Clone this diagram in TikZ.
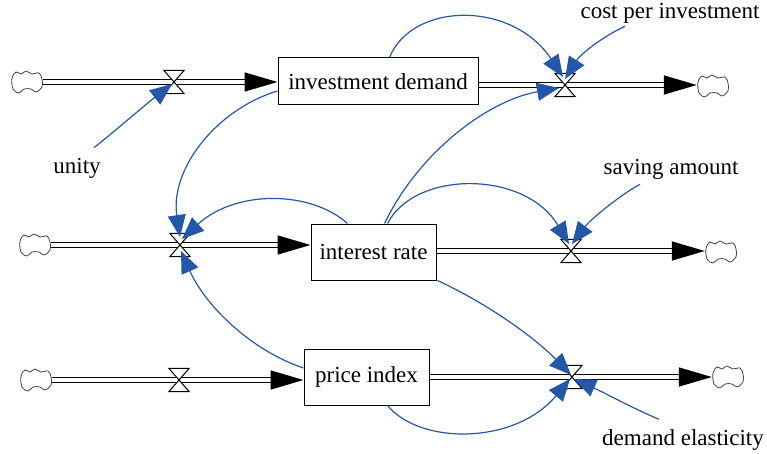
\documentclass[tikz,border=0pt]{standalone}
\usepackage{fontspec}
\setmainfont{Liberation Serif}
\usetikzlibrary{arrows.meta,calc}
\definecolor{linkblue}{HTML}{2457A7}
\tikzset{
  stockbox/.style={draw=black,line width=1pt,fill=white,inner sep=0pt,font=\fontsize{23}{26}\selectfont},
  varlabel/.style={inner sep=0pt,font=\fontsize{23}{26}\selectfont,anchor=center},
  valvebox/.style={inner sep=0pt,minimum width=20pt,minimum height=23pt},
  cloudbox/.style={inner sep=0pt,minimum width=32pt,minimum height=22pt},
  flowline/.style={draw=black,line width=1.5pt,double=white,double distance=3.4pt,-{Triangle[length=33pt,width=19pt,fill=black]}},
  link/.style={draw=linkblue,line width=1.2pt,-{Triangle[length=22pt,width=18pt,fill=linkblue]}}
}
\newcommand{\valvemark}[1]{\draw[line width=1pt,fill=white] (#1.north west)--(#1.north east)--(#1.south west)--(#1.south east)--cycle;}
\newcommand{\cloudmark}[1]{\draw[draw=black!75,line width=.8pt,fill=white] plot[smooth cycle,tension=.6] coordinates {
 ($(#1.center)+(-15,-4)$) ($(#1.center)+(-11,-10)$) ($(#1.center)+(-6,-8)$) ($(#1.center)+(-1,-11)$) ($(#1.center)+(5,-8)$) ($(#1.center)+(12,-9)$)
 ($(#1.center)+(15,-3)$) ($(#1.center)+(15,5)$) ($(#1.center)+(9,10)$) ($(#1.center)+(4,7)$) ($(#1.center)+(-3,7)$) ($(#1.center)+(-8,11)$) ($(#1.center)+(-14,7)$)};}
\begin{document}
\begin{tikzpicture}[x=1pt,y=-1pt]
\useasboundingbox (0,0) rectangle (767,454);
% stocks
\node[stockbox,minimum width=200pt,minimum height=47pt] (inv) at (378,81.5) {investment demand};
\node[stockbox,minimum width=125pt,minimum height=56pt] (ir) at (373.5,252) {interest rate};
\node[stockbox,minimum width=125pt,minimum height=56pt] (pi) at (366.5,377) {price index};
% valves and clouds
\node[valvebox] (vA) at (174,82) {};
\node[valvebox] (vB) at (565,85) {};
\node[valvebox] (vC) at (180,245) {};
\node[valvebox] (vD) at (571,251) {};
\node[valvebox] (vE) at (179,380) {};
\node[valvebox] (vF) at (572,377) {};
\node[cloudbox] (cA) at (27,82) {};
\node[cloudbox] (cB) at (713,86) {};
\node[cloudbox] (cC) at (35,245) {};
\node[cloudbox] (cD) at (721,252) {};
\node[cloudbox] (cE) at (36,380) {};
\node[cloudbox] (cF) at (728,377) {};
% flows
\draw[flowline] (cA.east) -- (vA -| inv.west);
\draw[flowline] (vB -| inv.east) -- (cB.west |- vB);
\draw[flowline] (cC.east) -- (vC -| ir.west);
\draw[flowline] (vD -| ir.east) -- (cD.west |- vD);
\draw[flowline] (cE.east) -- (vE -| pi.west);
\draw[flowline] (vF -| pi.east) -- (cF.west |- vF);
\foreach \c in {cA,cB,cC,cD,cE,cF}{\cloudmark{\c}}
\foreach \v in {vA,vB,vC,vD,vE,vF}{\valvemark{\v}}
% labels
\node[varlabel] (unity) at (77,168) {unity};
\node[varlabel] (cost) at (670,13) {cost per investment};
\node[varlabel] (sav) at (671,169) {saving amount};
\node[varlabel] (dem) at (683,440) {demand elasticity};
% links
\draw[link] ([shift={(17,-10)}]unity.north) .. controls (115,131) and (145,105) .. ([shift={(-2,2)}]vA.center);
\draw[link] ([shift={(-45,3)}]cost.south) .. controls (600,38) and (580,55) .. ([shift={(0,-6)}]vB.center);
\draw[link] ([xshift=112pt]inv.north west) .. controls (412,2) and (512,0) .. ([shift={(-2,-8)}]vB.center);
\draw[link] ([xshift=74pt]ir.north west) .. controls (420,150) and (490,100) .. ([shift={(-6,3)}]vB.center);
\draw[link] ([xshift=77pt]ir.north west) .. controls (415,170) and (525,170) .. ([shift={(-2,-7)}]vD.center);
\draw[link] ([shift={(-31,5)}]sav.south) .. controls (620,195) and (590,220) .. ([shift={(1,-7)}]vD.center);
\draw[link] ([xshift=1pt]ir.south east) .. controls (490,305) and (535,338) .. ([shift={(-1,-2)}]vF.center);
\draw[link] ([xshift=84pt]pi.south west) .. controls (420,445) and (515,445) .. ([shift={(-2,2)}]vF.center);
\draw[link] ([shift={(-24,-10)}]dem.north) .. controls (630,407) and (605,393) .. ([shift={(2,2)}]vF.center);
\draw[link] ([yshift=-9.5pt]inv.west) .. controls (215,110) and (170,170) .. ([shift={(0,-8)}]vC.center);
\draw[link] ([xshift=37pt]ir.north west) .. controls (310,190) and (235,190) .. ([shift={(2,-6)}]vC.center);
\draw[link] ([yshift=9pt]pi.west) .. controls (250,350) and (205,305) .. ([shift={(1,6)}]vC.center);
\end{tikzpicture}
\end{document}
